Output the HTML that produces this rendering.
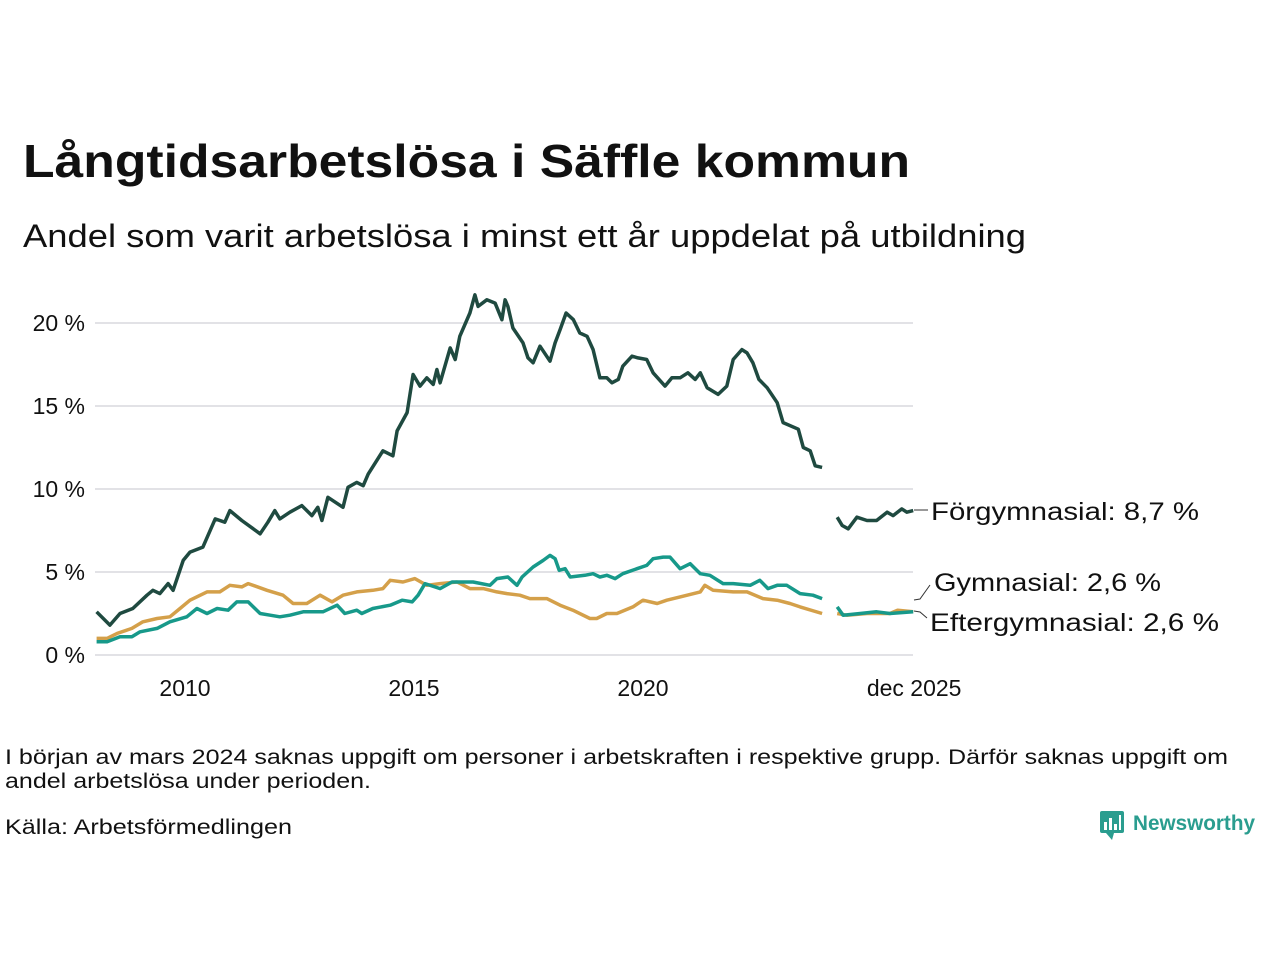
<!DOCTYPE html>
<html><head><meta charset="utf-8"><style>
html,body{margin:0;padding:0;background:#fff;}
svg text{font-family:"Liberation Sans",sans-serif;}
</style></head><body>
<svg id="chart" width="1280" height="960" viewBox="0 0 1280 960" xmlns="http://www.w3.org/2000/svg">
<text x="23" y="177" font-size="46" font-weight="bold" fill="#111" textLength="887" lengthAdjust="spacingAndGlyphs">Långtidsarbetslösa i Säffle kommun</text>
<text x="23" y="247" font-size="32" fill="#111" textLength="1003" lengthAdjust="spacingAndGlyphs">Andel som varit arbetslösa i minst ett år uppdelat på utbildning</text>
<g id="grid"></g>
<g id="yticks"></g>
<g id="xticks"></g>
<g id="series"></g>
<g>
<line x1="914" y1="510" x2="928" y2="510" stroke="#333" stroke-width="1"/>
<text x="931" y="520" font-size="25" fill="#111" textLength="268" lengthAdjust="spacingAndGlyphs">Förgymnasial: 8,7 %</text>
<polyline points="914,600 920,599 930,585" fill="none" stroke="#333" stroke-width="1"/>
<text x="934" y="591" font-size="25" fill="#111" textLength="227" lengthAdjust="spacingAndGlyphs">Gymnasial: 2,6 %</text>
<polyline points="914,611 920,612 927,618" fill="none" stroke="#333" stroke-width="1"/>
<text x="930" y="631" font-size="25" fill="#111" textLength="289" lengthAdjust="spacingAndGlyphs">Eftergymnasial: 2,6 %</text>
</g>
<text x="5" y="764" font-size="21" fill="#111" textLength="1223" lengthAdjust="spacingAndGlyphs">I början av mars 2024 saknas uppgift om personer i arbetskraften i respektive grupp. Därför saknas uppgift om</text>
<text x="5" y="788" font-size="21" fill="#111" textLength="366" lengthAdjust="spacingAndGlyphs">andel arbetslösa under perioden.</text>
<text x="5" y="834" font-size="21" fill="#111" textLength="287" lengthAdjust="spacingAndGlyphs">Källa: Arbetsförmedlingen</text>
<g>
<rect x="1100" y="811" width="24" height="22" rx="2" fill="#2a9d8f"/>
<polygon points="1106,833 1112,840 1114,833" fill="#2a9d8f"/>
<rect x="1104" y="822" width="3" height="8" fill="#fff"/><rect x="1109" y="818" width="3" height="12" fill="#fff"/><rect x="1114" y="824" width="3" height="6" fill="#fff"/><rect x="1119" y="815" width="2" height="15" fill="#fff"/>
<text x="1133" y="830" font-size="21" font-weight="bold" fill="#2a9d8f" textLength="122" lengthAdjust="spacingAndGlyphs">Newsworthy</text>
</g>
</svg>
<script>
const yTicks=[0,5,10,15,20];
const yTickLabels=["0 %","5 %","10 %","15 %","20 %"];
const xTicks=[2010,2015,2020,2025.92];
const xTickLabels=["2010","2015","2020","dec 2025"];
const darkDates=[2008.07,2008.36,2008.58,2008.86,2009.17,2009.3,2009.45,2009.63,2009.74,2009.96,2010.11,2010.39,2010.66,2010.87,2010.98,2011.24,2011.64,2011.81,2011.96,2012.07,2012.29,2012.55,2012.77,2012.9,2012.99,2013.12,2013.45,2013.56,2013.75,2013.89,2014.0,2014.32,2014.54,2014.63,2014.85,2014.98,2015.13,2015.28,2015.42,2015.5,2015.57,2015.79,2015.9,2016.0,2016.22,2016.33,2016.4,2016.59,2016.77,2016.92,2016.99,2017.05,2017.16,2017.38,2017.49,2017.6,2017.75,2017.97,2018.08,2018.19,2018.32,2018.48,2018.62,2018.78,2018.91,2019.06,2019.21,2019.32,2019.46,2019.56,2019.76,2019.89,2020.08,2020.22,2020.48,2020.63,2020.81,2020.98,2021.14,2021.25,2021.4,2021.64,2021.83,2021.97,2022.16,2022.27,2022.4,2022.53,2022.71,2022.93,2023.06,2023.39,2023.5,2023.65,2023.76,2023.91,2024.05,2024.24,2024.35,2024.48,2024.67,2024.89,2025.1,2025.33,2025.46,2025.65,2025.76,2025.9];
const darkValues=[2.6,1.8,2.5,2.8,3.6,3.9,3.7,4.3,3.9,5.7,6.2,6.5,8.2,8.0,8.7,8.1,7.3,8.0,8.7,8.2,8.6,9.0,8.4,8.9,8.1,9.5,8.9,10.1,10.4,10.2,10.9,12.3,12.0,13.5,14.6,16.9,16.2,16.7,16.3,17.2,16.4,18.5,17.8,19.2,20.6,21.7,21.0,21.4,21.2,20.2,21.4,21.0,19.7,18.8,17.9,17.6,18.6,17.7,18.8,19.6,20.6,20.2,19.4,19.2,18.4,16.7,16.7,16.4,16.6,17.4,18.0,17.9,17.8,17.0,16.2,16.7,16.7,17.0,16.6,17.0,16.1,15.7,16.2,17.8,18.4,18.2,17.6,16.6,16.1,15.2,14.0,13.6,12.5,12.3,11.4,11.3,null,8.3,7.8,7.6,8.3,8.1,8.1,8.6,8.4,8.8,8.6,8.7];
const tealDates=[2008.07,2008.3,2008.58,2008.84,2009.02,2009.39,2009.67,2010.04,2010.26,2010.48,2010.7,2010.94,2011.13,2011.38,2011.64,2011.86,2012.07,2012.29,2012.58,2013.01,2013.32,2013.49,2013.75,2013.86,2014.1,2014.48,2014.74,2014.96,2015.09,2015.24,2015.57,2015.83,2016.29,2016.66,2016.81,2017.05,2017.25,2017.36,2017.6,2017.82,2017.97,2018.08,2018.17,2018.3,2018.41,2018.73,2018.91,2019.06,2019.21,2019.39,2019.56,2019.87,2020.08,2020.22,2020.44,2020.59,2020.81,2021.03,2021.25,2021.46,2021.75,2021.97,2022.34,2022.55,2022.73,2022.93,2023.14,2023.43,2023.71,2023.91,2024.05,2024.24,2024.37,2024.74,2025.1,2025.39,2025.9];
const tealValues=[0.8,0.8,1.1,1.1,1.4,1.6,2.0,2.3,2.8,2.5,2.8,2.7,3.2,3.2,2.5,2.4,2.3,2.4,2.6,2.6,3.0,2.5,2.7,2.5,2.8,3.0,3.3,3.2,3.6,4.3,4.0,4.4,4.4,4.2,4.6,4.7,4.2,4.7,5.3,5.7,6.0,5.8,5.1,5.2,4.7,4.8,4.9,4.7,4.8,4.6,4.9,5.2,5.4,5.8,5.9,5.9,5.2,5.5,4.9,4.8,4.3,4.3,4.2,4.5,4.0,4.2,4.2,3.7,3.6,3.4,null,2.9,2.4,2.5,2.6,2.5,2.6];
const goldDates=[2008.07,2008.3,2008.52,2008.84,2009.08,2009.39,2009.67,2009.89,2010.11,2010.48,2010.76,2010.98,2011.24,2011.38,2011.79,2012.14,2012.36,2012.66,2012.95,2013.21,2013.45,2013.75,2014.1,2014.32,2014.48,2014.76,2015.02,2015.28,2015.57,2015.94,2016.22,2016.51,2016.81,2017.03,2017.31,2017.53,2017.9,2018.19,2018.47,2018.84,2018.99,2019.21,2019.43,2019.78,2020.0,2020.31,2020.52,2020.81,2021.25,2021.35,2021.53,2021.97,2022.27,2022.62,2022.93,2023.21,2023.43,2023.91,2024.05,2024.24,2024.45,2024.89,2025.39,2025.56,2025.9];
const goldValues=[1.0,1.0,1.3,1.6,2.0,2.2,2.3,2.8,3.3,3.8,3.8,4.2,4.1,4.3,3.9,3.6,3.1,3.1,3.6,3.2,3.6,3.8,3.9,4.0,4.5,4.4,4.6,4.2,4.3,4.4,4.0,4.0,3.8,3.7,3.6,3.4,3.4,3.0,2.7,2.2,2.2,2.5,2.5,2.9,3.3,3.1,3.3,3.5,3.8,4.2,3.9,3.8,3.8,3.4,3.3,3.1,2.9,2.5,null,2.5,2.4,2.5,2.5,2.7,2.6];

const NS="http://www.w3.org/2000/svg";
const X0=95,X1=913;
function xScale(yr){return 185+(yr-2010)*45.8;}
function yScale(v){return 655-v*16.6;}
function mk(tag,attrs,parent){const e=document.createElementNS(NS,tag);for(const k in attrs)e.setAttribute(k,attrs[k]);parent.appendChild(e);return e;}
const grid=document.getElementById('grid'),yt=document.getElementById('yticks'),xt=document.getElementById('xticks'),ser=document.getElementById('series');
yTicks.forEach((v,i)=>{
  const l=mk('line',{x1:X0,x2:X1,y1:yScale(v),y2:yScale(v),stroke:'#e2e2e6','stroke-width':2},grid);
  
  
  const t=mk('text',{x:85,y:yScale(v)+8,'font-size':23,'text-anchor':'end',fill:'#111'},yt);
  
  
  t.textContent=yTickLabels[i];
});
xTicks.forEach((v,i)=>{
  const t=mk('text',{x:xScale(v),y:696,'font-size':23,'text-anchor':'middle',fill:'#111'},xt);
  
  
  t.textContent=xTickLabels[i];
});
function draw(dates,vals,color,name){
  let d='',pen=false;
  dates.forEach((yr,i)=>{
    const v=vals[i];
    if(v===null){pen=false;return;}
    d+=(pen?'L':'M')+xScale(yr).toFixed(1)+','+yScale(v).toFixed(1)+' ';
    pen=true;
  });
  const p=mk('path',{d:d,fill:'none',stroke:color,'stroke-width':3.5,'stroke-linejoin':'round'},ser);
  
  
}
draw(goldDates,goldValues,'#d4a04a','line-eftergymnasial');
draw(tealDates,tealValues,'#17998a','line-gymnasial');
draw(darkDates,darkValues,'#1f4a40','line-forgymnasial');
</script>
</body></html>
